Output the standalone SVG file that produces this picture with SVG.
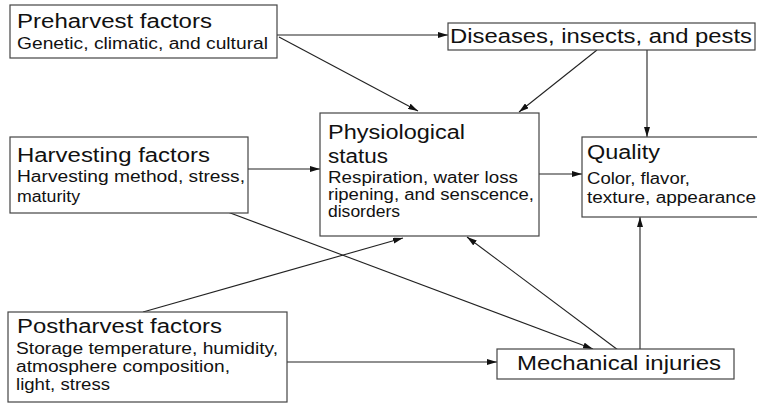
<svg xmlns="http://www.w3.org/2000/svg" width="757" height="405" viewBox="0 0 757 405">
<defs>
<marker id="arr" viewBox="0 0 10 6" refX="10" refY="3" markerWidth="10" markerHeight="6" markerUnits="userSpaceOnUse" orient="auto">
<path d="M0,0 L10,3 L0,6 Z" fill="#111"/>
</marker>
</defs>
<style>
.box{fill:#fff;stroke:#444;stroke-width:1.2}
.t{font-family:"Liberation Sans",Arial,Helvetica,sans-serif;font-size:20px;fill:#111}
.s{font-family:"Liberation Sans",Arial,Helvetica,sans-serif;font-size:16px;fill:#111}
.c{fill:none;stroke:#222;stroke-width:1.1;marker-end:url(#arr)}
</style>
<rect width="757" height="405" fill="#fff"/>
<g id="connectors">
<line class="c" x1="277" y1="35" x2="448" y2="35"/>
<line class="c" x1="279" y1="37" x2="418" y2="111"/>
<line class="c" x1="597" y1="50" x2="519" y2="112"/>
<line class="c" x1="647" y1="50" x2="647" y2="137"/>
<line class="c" x1="248" y1="169" x2="320" y2="169"/>
<line class="c" x1="539" y1="174" x2="582" y2="174"/>
<line class="c" x1="225" y1="211" x2="593" y2="349"/>
<line class="c" x1="143" y1="312" x2="403" y2="238"/>
<line class="c" x1="618" y1="350" x2="467" y2="237"/>
<line class="c" x1="287" y1="362" x2="497" y2="362"/>
<line class="c" x1="640" y1="349" x2="640" y2="217"/>
</g>
<g id="preharvest">
<rect class="box" x="10" y="5" width="267" height="53"/>
<text class="t" x="17" y="28" textLength="195" lengthAdjust="spacingAndGlyphs">Preharvest factors</text>
<text class="s" x="17" y="49" textLength="251" lengthAdjust="spacingAndGlyphs">Genetic, climatic, and cultural</text>
</g>
<g id="diseases">
<rect class="box" x="448" y="23" width="307" height="27"/>
<text class="t" x="450" y="43" textLength="302" lengthAdjust="spacingAndGlyphs">Diseases, insects, and pests</text>
</g>
<g id="physiological">
<rect class="box" x="320" y="113" width="219" height="123"/>
<text class="t" x="328" y="139" textLength="137" lengthAdjust="spacingAndGlyphs">Physiological</text>
<text class="t" x="328" y="163" textLength="60" lengthAdjust="spacingAndGlyphs">status</text>
<text class="s" x="328" y="183" textLength="190" lengthAdjust="spacingAndGlyphs">Respiration, water loss</text>
<text class="s" x="328" y="200" textLength="206" lengthAdjust="spacingAndGlyphs">ripening, and senscence,</text>
<text class="s" x="328" y="217" textLength="72" lengthAdjust="spacingAndGlyphs">disorders</text>
</g>
<g id="harvesting">
<rect class="box" x="10" y="137" width="238" height="76"/>
<text class="t" x="17" y="162" textLength="193" lengthAdjust="spacingAndGlyphs">Harvesting factors</text>
<text class="s" x="17" y="182" textLength="228" lengthAdjust="spacingAndGlyphs">Harvesting method, stress,</text>
<text class="s" x="17" y="202" textLength="63" lengthAdjust="spacingAndGlyphs">maturity</text>
</g>
<g id="quality">
<rect class="box" x="582" y="137" width="185" height="80"/>
<text class="t" x="587" y="159" textLength="73" lengthAdjust="spacingAndGlyphs">Quality</text>
<text class="s" x="587" y="184" textLength="103" lengthAdjust="spacingAndGlyphs">Color, flavor,</text>
<text class="s" x="587" y="203" textLength="169" lengthAdjust="spacingAndGlyphs">texture, appearance</text>
</g>
<g id="postharvest">
<rect class="box" x="8" y="312" width="279" height="90"/>
<text class="t" x="17" y="333" textLength="205" lengthAdjust="spacingAndGlyphs">Postharvest factors</text>
<text class="s" x="16" y="354" textLength="262" lengthAdjust="spacingAndGlyphs">Storage temperature, humidity,</text>
<text class="s" x="16" y="372" textLength="214" lengthAdjust="spacingAndGlyphs">atmosphere composition,</text>
<text class="s" x="16" y="390" textLength="94" lengthAdjust="spacingAndGlyphs">light, stress</text>
</g>
<g id="mechanical">
<rect class="box" x="497" y="349" width="237" height="30"/>
<text class="t" x="517" y="370" textLength="204" lengthAdjust="spacingAndGlyphs">Mechanical injuries</text>
</g>
</svg>
